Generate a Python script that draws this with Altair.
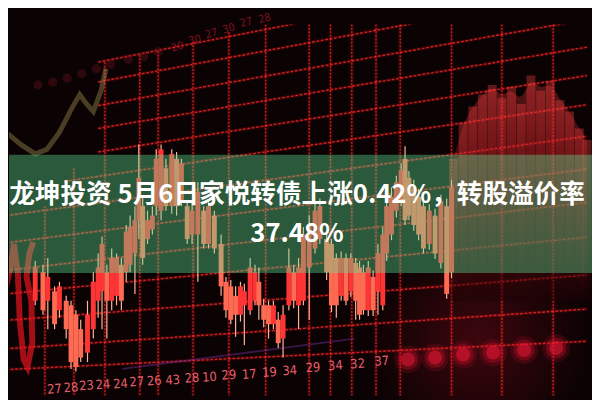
import altair as alt
import pandas as pd

# ---------------- text ----------------
title_line1 = "龙坤投资 5月6日家悦转债上涨0.42%，转股溢价率"
title_line2 = "37.48%"

# ---------------- candlesticks (price units) ----------------
candle_x = [30, 38, 43, 50, 55, 62, 67, 72, 77, 84,
            90, 95, 99, 104, 109, 114, 119, 124, 128, 133,
            137, 141, 146, 151, 155, 160, 165, 171, 176, 181,
            187, 192, 198, 204, 209, 215, 222, 227, 232, 237,
            242, 246, 252, 257, 261, 266, 271, 276, 281, 286,
            292, 297, 302, 307, 313, 319, 324, 331, 336, 341,
            346, 351, 356, 361, 365, 369, 374, 379, 384, 389,
            393, 398, 403, 408, 412, 416, 421, 426, 431, 437,
            443, 449, 455, 460]
body_hi = [33.8, 32.5, 31.3, 27.5, 28.8, 25.0, 23.8, 21.3, 17.5, 21.3,
           30.0, 33.8, 40.0, 32.5, 36.3, 36.3, 34.5, 43.3, 44.5, 46.3,
           57.5, 50.0, 46.3, 47.5, 62.5, 65.0, 60.0, 63.8, 62.5, 61.3,
           50.0, 48.8, 53.8, 48.8, 50.0, 47.5, 40.0, 30.0, 28.8, 26.3,
           28.8, 27.5, 33.8, 32.5, 30.0, 23.8, 23.8, 23.8, 20.0, 21.3,
           33.8, 32.5, 33.8, 42.5, 45.0, 48.8, 50.0, 41.3, 40.0, 36.3,
           36.3, 36.3, 36.3, 35.0, 33.8, 32.5, 33.8, 31.3, 37.5, 42.5,
           50.0, 52.5, 56.3, 59.5, 62.5, 57.5, 55.0, 52.5, 50.0, 48.8,
           47.5, 51.3, 50.0, 55.0]
body_lo = [25.0, 22.5, 25.0, 18.8, 22.5, 17.5, 8.8, 7.5, 10.0, 11.3,
           17.5, 25.0, 27.5, 25.0, 25.0, 26.3, 25.0, 32.5, 34.5, 37.5,
           46.3, 36.3, 41.3, 43.8, 50.0, 48.8, 50.0, 50.0, 50.0, 51.3,
           41.3, 42.5, 42.5, 40.0, 40.0, 38.8, 28.8, 22.5, 20.0, 21.3,
           21.3, 23.8, 22.5, 25.0, 23.8, 20.0, 18.8, 18.8, 13.8, 15.0,
           23.8, 25.0, 23.8, 25.0, 33.8, 38.8, 41.3, 32.5, 23.8, 23.8,
           26.3, 25.0, 27.5, 25.0, 21.3, 22.5, 22.5, 22.5, 27.5, 23.8,
           37.5, 42.5, 48.8, 51.3, 46.3, 47.5, 45.0, 42.5, 38.8, 40.0,
           37.5, 35.0, 26.8, 32.5]
high = [35.5, 34.5, 36.3, 28.8, 30.0, 26.3, 25.0, 22.5, 20.0, 25.0,
        32.5, 37.5, 42.0, 34.5, 38.8, 37.5, 36.3, 45.0, 47.5, 50.0,
        66.3, 52.5, 48.8, 50.0, 65.0, 66.3, 62.5, 65.0, 64.3, 62.5,
        51.3, 51.3, 56.3, 50.0, 51.3, 48.8, 42.5, 31.3, 30.5, 28.8,
        30.0, 29.5, 36.3, 34.5, 33.8, 25.5, 25.0, 25.0, 22.0, 23.8,
        38.8, 34.5, 36.3, 44.5, 47.5, 51.3, 52.0, 43.0, 41.3, 37.5,
        38.0, 37.5, 37.5, 36.3, 35.5, 34.5, 35.5, 33.0, 40.0, 44.5,
        52.0, 55.0, 58.0, 61.3, 65.8, 59.3, 57.0, 54.5, 52.0, 50.5,
        49.3, 53.0, 52.0, 57.0]
low = [23.8, 21.3, 17.5, 17.5, 20.5, 15.0, 7.0, 6.3, 8.8, 8.8,
       15.0, 20.5, 17.5, 15.0, 22.5, 23.8, 22.5, 30.0, 32.5, 26.8,
       41.3, 34.5, 40.0, 42.5, 47.5, 46.3, 48.8, 48.0, 47.5, 50.0,
       40.0, 40.0, 30.0, 38.8, 38.8, 37.5, 26.3, 20.5, 18.8, 15.5,
       19.5, 13.3, 21.3, 23.8, 20.0, 18.0, 15.0, 17.5, 12.5, 10.0,
       22.5, 23.0, 17.5, 23.8, 20.0, 37.5, 40.0, 30.5, 22.0, 20.5,
       25.0, 23.8, 26.0, 20.0, 20.0, 21.3, 21.0, 21.0, 21.3, 22.5,
       35.5, 41.0, 47.0, 50.0, 45.0, 46.3, 43.5, 41.0, 37.5, 38.5,
       36.0, 33.5, 25.5, 31.0]

# ---------------- background decoration ----------------
grid_vx = [40, 70, 102, 138, 157, 193, 230, 268, 313, 335, 357, 382, 407, 460, 512, 565]
grid_vtop = [50.0, 60.0, 88.0, 90.0, 91.0, 93.5, 96.0, 98.0, 98.0, 98.0, 98.0, 98.0, 98.0, 98.0, 98.0, 98.0]
grid_start = [95, 95, 95, 95, 95, 60, 0, 0, 0, 0, 0, 0, 0]
grid_left = [83.3, 78.3, 72.3, 66.5, 60.5, 54.3, 47.5, 40.3, 33.0, 26.8, 19.8, 12.3, 6.8]
grid_right = [113.3, 106.8, 99.3, 92.0, 84.5, 76.8, 68.5, 59.8, 51.0, 41.8, 31.8, 22.8, 14.3]

bottom_labels = ["27", "28", "23", "24", "24", "27", "26", "43", "28", "10",
                 "29", "17", "19", "34", "29", "34", "32", "37"]
bottom_x = [50, 67, 83, 100, 118, 135, 153, 172, 192, 210,
            230, 251, 272, 293, 317, 340, 363, 388]
bottom_y = [1.6, 2.0, 2.5, 2.8, 3.0, 3.5, 3.8, 4.0, 4.5, 4.8,
            5.3, 5.5, 6.0, 6.5, 7.3, 7.8, 8.3, 9.0]

blob_x = [415, 443, 472, 503, 535, 568]
blob_y = [9.5, 10.0, 10.8, 11.3, 12.0, 12.5]

top_dot_x = [33, 48, 63, 78, 93, 108, 126, 142, 157]
top_dot_y = [82.0, 82.8, 83.8, 85.0, 86.3, 87.5, 88.8, 89.5, 90.8]
top_labels = ["20", "30", "27", "30", "27", "28"]
top_label_x = [177, 195, 212, 230, 248, 267]
top_label_y = [92.0, 93.8, 95.5, 96.8, 98.5, 99.5]

yellow_x = [0, 15, 30, 42, 55, 67, 76, 83, 90, 98, 103]
yellow_y = [69.5, 66.3, 63.8, 65.0, 69.5, 75.5, 79.5, 77.0, 75.0, 80.5, 86.3]

zig_x = [0, 5, 8, 12, 14, 18, 22, 27, 26, 21, 24, 28]
zig_y = [28.8, 34.5, 40.0, 32.5, 20.0, 9.5, 7.5, 13.8, 25.0, 31.3, 37.5, 40.5]

haze_x = [462, 472, 482, 492, 502, 512, 522, 532, 542, 552, 562, 572, 582, 592, 600]
haze_top = [62.5, 72.0, 76.3, 79.5, 82.0, 78.5, 81.5, 77.0, 84.5, 80.5, 83.0, 78.0, 75.0, 70.5, 67.5]
haze_base = 25.0

purple_x = [120, 360]
purple_y = [7.0, 15.0]

# ---------------- scales ----------------
xs = alt.Scale(domain=[8, 600], nice=False, zero=False)
ys = alt.Scale(domain=[0, 98], nice=False, zero=False)
X = lambda f: alt.X(f, type="quantitative", scale=xs, axis=None)
Y = lambda f: alt.Y(f, type="quantitative", scale=ys, axis=None)

candles = pd.DataFrame({"x": candle_x, "bhi": body_hi, "blo": body_lo,
                        "hi": high, "lo": low})
mid = (candles["bhi"] + candles["blo"]) / 2
candles["tone"] = ["up" if i == 0 or mid[i] >= mid[i - 1] else "down" for i in range(len(mid))]

vgrid = pd.DataFrame({"x": grid_vx, "top": grid_vtop, "bot": [0] * len(grid_vx)})
sgrid = pd.DataFrame({"x0": grid_start, "x1": [600] * len(grid_left),
                      "y0": [l + (r - l) * s / 600 for l, r, s in zip(grid_left, grid_right, grid_start)],
                      "y1": grid_right})

vglow = alt.Chart(vgrid).mark_rule(color="#ff1a1a", strokeWidth=4, opacity=0.12).encode(
    x=X("x"), y=Y("top"), y2="bot")
vlines = alt.Chart(vgrid).mark_rule(color="#ff2a2a", strokeWidth=1.4, opacity=0.75,
                                    strokeDash=[2, 1.5]).encode(x=X("x"), y=Y("top"), y2="bot")
sglow = alt.Chart(sgrid).mark_rule(color="#ff1a1a", strokeWidth=4, opacity=0.12,
                                   clip=True).encode(x=X("x0"), x2="x1", y=Y("y0"), y2="y1")
slines = alt.Chart(sgrid).mark_rule(color="#ff2a2a", strokeWidth=1.5, opacity=0.75,
                                    strokeDash=[3, 1.5], clip=True).encode(
    x=X("x0"), x2="x1", y=Y("y0"), y2="y1")

glow = alt.Chart(pd.DataFrame({"a": [0]})).mark_rect(
    color=alt.RadialGradient(gradient="radial",
                             stops=[alt.GradientStop(offset=0, color="#4a0810"),
                                    alt.GradientStop(offset=1, color="#0a0203")]),
    opacity=0.8).encode(x=alt.value(360), x2=alt.value(592), y=alt.value(250), y2=alt.value(392))

haze_df = pd.DataFrame({"x": haze_x, "top": haze_top, "base": [haze_base] * len(haze_x)})
haze_grad = alt.Gradient(gradient="linear",
                         stops=[alt.GradientStop(offset=0, color="#ff4040"),
                                alt.GradientStop(offset=0.5, color="#a01018"),
                                alt.GradientStop(offset=1, color="#1a0204")],
                         x1=0, x2=0, y1=0, y2=1)
haze_outer = alt.Chart(haze_df).mark_area(
    interpolate="basis", opacity=0.3, clip=True, color=haze_grad).encode(
    x=X("x"), y=Y("top"), y2="base")
haze_streaks = alt.Chart(haze_df).mark_bar(
    size=9, opacity=0.35, clip=True, color=haze_grad).encode(
    x=X("x"), y=Y("top"), y2="base")

purple = alt.Chart(pd.DataFrame({"x": purple_x, "y": purple_y})).mark_line(
    color="#6a2a8a", strokeWidth=2, opacity=0.5).encode(x=X("x"), y=Y("y"))

blobs_df = pd.DataFrame({"x": blob_x, "y": blob_y})
blobs_outer = alt.Chart(blobs_df).mark_circle(color="#c0102a", size=800, opacity=0.18).encode(
    x=X("x"), y=Y("y"))
blobs_mid = alt.Chart(blobs_df).mark_circle(color="#d8102a", size=450, opacity=0.3).encode(
    x=X("x"), y=Y("y"))
blobs_inner = alt.Chart(blobs_df).mark_circle(color="#ff1a3a", size=200, opacity=0.45).encode(
    x=X("x"), y=Y("y"))

blabels = alt.Chart(pd.DataFrame({"t": bottom_labels, "x": bottom_x, "y": bottom_y})).mark_text(
    color="#ff6a7a", fontSize=13, font="DejaVu Sans Condensed", angle=356, opacity=0.9).encode(
    x=X("x"), y=Y("y"), text="t:N")

tdots = alt.Chart(pd.DataFrame({"x": top_dot_x, "y": top_dot_y})).mark_circle(
    color="#701420", size=90, opacity=0.35).encode(x=X("x"), y=Y("y"))
tlabels = alt.Chart(pd.DataFrame({"t": top_labels, "x": top_label_x, "y": top_label_y})).mark_text(
    color="#b01a2a", fontSize=11, font="DejaVu Sans Condensed", angle=345, opacity=0.7).encode(
    x=X("x"), y=Y("y"), text="t:N")

yellow = alt.Chart(pd.DataFrame({"x": yellow_x, "y": yellow_y, "o": range(len(yellow_x))})).mark_line(
    color="#a89858", strokeWidth=5, opacity=0.4, clip=True).encode(
    x=X("x"), y=Y("y"), order="o:Q")
zig = alt.Chart(pd.DataFrame({"x": zig_x, "y": zig_y, "o": range(len(zig_x))})).mark_line(
    color="#e8141e", strokeWidth=6, opacity=0.7, clip=True).encode(
    x=X("x"), y=Y("y"), order="o:Q")

wicks = alt.Chart(candles).mark_rule(color="#ffb59a", strokeWidth=1.2).encode(
    x=X("x"), y=Y("hi"), y2="lo")
bodies = alt.Chart(candles).mark_bar(size=5).encode(
    x=X("x"), y=Y("bhi"), y2="blo",
    color=alt.Color("tone:N", legend=None,
                    scale=alt.Scale(domain=["up", "down"], range=["#ff3535", "#ff6a52"])))

band = alt.Chart(pd.DataFrame({"a": [0]})).mark_rect(color="#5ee898", opacity=0.38).encode(
    x=alt.value(0), x2=alt.value(592), y=alt.value(132), y2=alt.value(252))

t1 = alt.Chart(pd.DataFrame({"t": [title_line1]})).mark_text(
    color="#ffffff", fontSize=26, fontWeight="bold", font="Noto Sans CJK SC",
    align="center", baseline="middle").encode(x=alt.value(292), y=alt.value(173), text="t:N")
t2 = alt.Chart(pd.DataFrame({"t": [title_line2]})).mark_text(
    color="#ffffff", fontSize=26, fontWeight="bold", font="Noto Sans CJK SC",
    align="center", baseline="middle").encode(x=alt.value(292), y=alt.value(213), text="t:N")

chart = alt.layer(
    glow, vglow, vlines, sglow, slines, haze_outer, haze_streaks, purple,
    blobs_outer, blobs_mid, blobs_inner, blabels, tdots, tlabels,
    yellow, zig, wicks, bodies, band, t1, t2
).properties(
    width=592, height=392,
    autosize=alt.AutoSizeParams(type="fit", contains="padding"),
    padding=0, background="#0a0203"
).configure_view(stroke=None)

chart.save("out.html", embed_options={"renderer": "svg", "actions": False})
